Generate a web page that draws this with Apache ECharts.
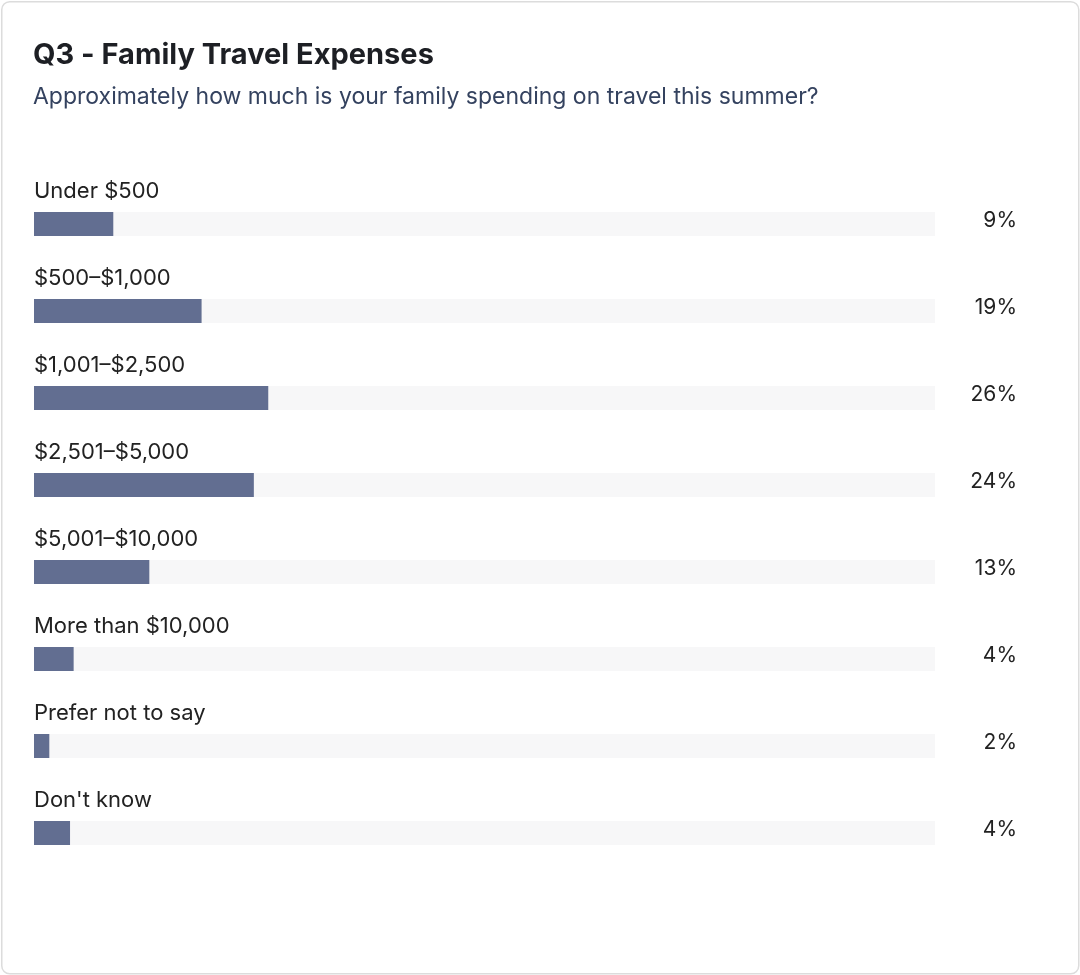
<!DOCTYPE html>
<html><head><meta charset="utf-8">
<script src="https://cdn.jsdelivr.net/npm/echarts@6/dist/echarts.min.js"></script>
<style>html,body{margin:0;padding:0;background:#fff}#c{width:1080px;height:975px}</style>
</head><body><div id="c"></div>
<script>
const categories = ["Under $500","$500–$1,000","$1,001–$2,500","$2,501–$5,000","$5,001–$10,000","More than $10,000","Prefer not to say","Don't know"];
const values = [8.8, 18.6, 26.0, 24.4, 12.8, 4.4, 1.7, 4.0];
const pctLabels = ["9%","19%","26%","24%","13%","4%","2%","4%"];
const F = "Inter, 'Noto Sans', sans-serif";
const chart = echarts.init(document.getElementById('c'));
chart.setOption({
  animation:false,
  graphic:[{type:'rect',left:1,top:1,shape:{width:1077,height:972,r:8},style:{fill:'#fff',stroke:'#dcdcdc',lineWidth:1.5},z:-10}],
  title:{text:'Q3 - Family Travel Expenses',subtext:'Approximately how much is your family spending on travel this summer?',
    left:33,top:41,padding:0,itemGap:16,
    textStyle:{fontFamily:F,fontSize:29,fontWeight:'bold',color:'#1d1f24'},
    subtextStyle:{fontFamily:F,fontSize:23,color:'#34425f'}},
  grid:{left:34,right:145,top:180.5,height:696},
  xAxis:{type:'value',min:0,max:100,show:false},
  yAxis:{type:'category',data:categories,inverse:true,show:false},
  series:[
    {type:'bar',data:values.map(()=>100),barWidth:24,silent:true,itemStyle:{color:'#f7f7f8'},
     label:{show:true,position:['100%','50%'],offset:[82,-3],align:'right',verticalAlign:'middle',
       fontFamily:F,fontSize:21,color:'#222',formatter:p=>pctLabels[p.dataIndex]}},
    {type:'bar',data:values,barWidth:24,barGap:'-100%',itemStyle:{color:'#626e91'},
     label:{show:true,position:[0,-21],align:'left',verticalAlign:'middle',
       fontFamily:F,fontSize:22,color:'#222',formatter:p=>categories[p.dataIndex]}}
  ]
});
</script></body></html>
